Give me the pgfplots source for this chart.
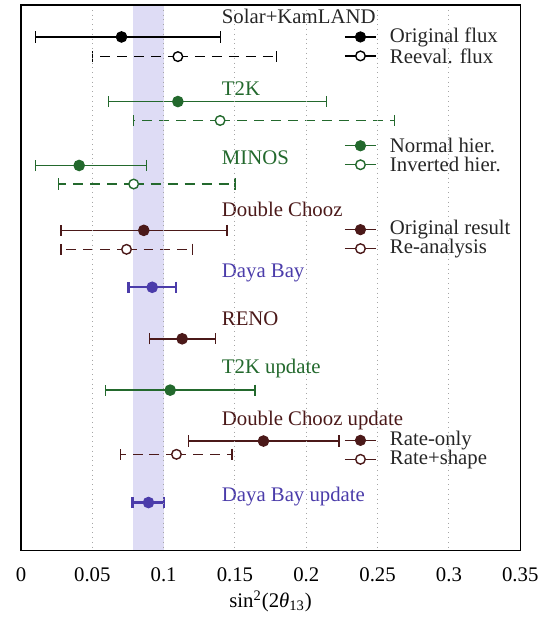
\documentclass[border=0pt]{standalone}
\usepackage{fontspec}
\setmainfont{Liberation Serif}
\usepackage{pgfplots}
\pgfplotsset{compat=1.18}
\usetikzlibrary{calc}

\definecolor{cgreen}{RGB}{35,105,45}
\definecolor{cbrown}{RGB}{75,25,25}
\definecolor{cblue}{RGB}{75,60,170}
\definecolor{cband}{RGB}{222,220,245}

\pgfplotsset{
  eb/.style={#1, mark=*, mark size=2.6pt, line width=0.7pt,
    mark options={solid, fill=#1, line width=0.6pt},
    error bars/.cd, x dir=both, x explicit,
    error bar style={line width=0.7pt, #1},
    error mark options={rotate=90, solid, line width=0.7pt, mark size=2.8pt, #1}},
  ebt/.style={#1, mark=*, mark size=2.6pt, line width=1.2pt,
    mark options={solid, fill=#1, line width=0.6pt},
    error bars/.cd, x dir=both, x explicit,
    error bar style={line width=1.2pt, #1},
    error mark options={rotate=90, solid, line width=1.2pt, mark size=2.8pt, #1}},
  ebo/.style={#1, mark=*, mark size=2.4pt, line width=0.7pt,
    mark options={solid, fill=white},
    error bars/.cd, x dir=both, x explicit,
    error bar style={line width=0.7pt, #1, dash pattern=on 5pt off 3.5pt},
    error mark options={rotate=90, solid, line width=0.7pt, mark size=2.8pt, #1}},
  lgline/.style={#1, line width=0.7pt},
  lgdot/.style={#1, only marks, mark=*, mark size=2.6pt, mark options={fill=#1}},
  lgopen/.style={#1, only marks, mark=*, mark size=2.4pt, line width=0.7pt, mark options={fill=white}},
}

\begin{document}
\begin{tikzpicture}[font=\fontsize{10.4}{12.5}\selectfont]
\begin{axis}[
  name=ax,
  scale only axis,
  width=250pt, height=273pt,
  xmin=0, xmax=0.35, ymin=5, ymax=551,
  y dir=reverse,
  ytick=\empty,
  xtick={0,0.05,0.1,0.15,0.2,0.25,0.3,0.35},
  xticklabels={0,0.05,0.1,0.15,0.2,0.25,0.3,0.35},
  major tick length=0pt,
  xmajorgrids,
  grid style={gray!70, dotted, line width=0.5pt},
  axis line style={line width=0.6pt},
  xticklabel style={yshift=-5pt},
  xlabel={sin\textsuperscript{2}(2\textit{θ}\textsubscript{13})},
  xlabel style={yshift=2pt},
  axis on top,
  clip=false,
]
\addplot[fill=cband, draw=none] coordinates {(0.0786,5) (0.1,5) (0.1,551) (0.0786,551)} -- cycle;

% Solar+KamLAND
\addplot[eb=black] coordinates {(0.0705,37) += (0.0695,0) -= (0.0602,0)};
\addplot[ebo=black] coordinates {(0.110,56.7) += (0.069,0) -= (0.060,0)};
% T2K
\addplot[eb=cgreen] coordinates {(0.110,101.7) += (0.104,0) -= (0.0486,0)};
\addplot[ebo=cgreen] coordinates {(0.1396,120.7) += (0.1224,0) -= (0.0606,0)};
% MINOS
\addplot[eb=cgreen] coordinates {(0.0408,165.7) += (0.0472,0) -= (0.0305,0)};
\addplot[ebo=cgreen] coordinates {(0.079,184.3) += (0.071,0) -= (0.0526,0)};
% Double Chooz
\addplot[eb=cbrown] coordinates {(0.0861,230.7) += (0.0582,0) -= (0.0581,0)};
\addplot[ebo=cbrown] coordinates {(0.074,249.7) += (0.0462,0) -= (0.046,0)};
% Daya Bay
\addplot[ebt=cblue] coordinates {(0.092,287.7) += (0.0168,0) -= (0.0166,0)};
% RENO
\addplot[eb=cbrown] coordinates {(0.113,339.3) += (0.0233,0) -= (0.0227,0)};
% T2K update
\addplot[eb=cgreen] coordinates {(0.1046,390.7) += (0.0594,0) -= (0.0453,0)};
% Double Chooz update
\addplot[eb=cbrown] coordinates {(0.170,441.7) += (0.053,0) -= (0.0524,0)};
\addplot[ebo=cbrown] coordinates {(0.109,455) += (0.039,0) -= (0.0392,0)};
% Daya Bay update
\addplot[ebt=cblue] coordinates {(0.0894,503.3) += (0.011,0) -= (0.0112,0)};

% legend keys
\addplot[lgline=black] coordinates {(0.227,37) (0.249,37)};
\addplot[lgdot=black] coordinates {(0.238,37)};
\addplot[lgline=black] coordinates {(0.227,56) (0.249,56)};
\addplot[lgopen=black] coordinates {(0.238,56)};
\addplot[lgline=cgreen] coordinates {(0.227,146) (0.249,146)};
\addplot[lgdot=cgreen] coordinates {(0.238,146)};
\addplot[lgline=cgreen] coordinates {(0.227,165) (0.249,165)};
\addplot[lgopen=cgreen] coordinates {(0.238,165)};
\addplot[lgline=cbrown] coordinates {(0.227,230) (0.249,230)};
\addplot[lgdot=cbrown] coordinates {(0.238,230)};
\addplot[lgline=cbrown] coordinates {(0.227,249) (0.249,249)};
\addplot[lgopen=cbrown] coordinates {(0.238,249)};
\addplot[lgline=cbrown] coordinates {(0.227,441) (0.249,441)};
\addplot[lgdot=cbrown] coordinates {(0.238,441)};
\addplot[lgline=cbrown] coordinates {(0.227,460) (0.249,460)};
\addplot[lgopen=cbrown] coordinates {(0.238,460)};

\begin{scope}[every node/.style={anchor=west, inner xsep=0pt, black!85}]
\node at (axis cs:0.2584,37) {Original flux};
\node at (axis cs:0.2584,56) {Reeval. flux};
\node at (axis cs:0.2584,146) {Normal hier.};
\node at (axis cs:0.2584,165) {Inverted hier.};
\node at (axis cs:0.2584,230) {Original result};
\node at (axis cs:0.2584,249) {Re-analysis};
\node at (axis cs:0.2584,441) {Rate-only};
\node at (axis cs:0.2584,460) {Rate+shape};
\end{scope}

% experiment labels
\node[anchor=west, black!85, inner xsep=0pt] at (axis cs:0.1406,16) {Solar+KamLAND};
\node[anchor=west, cgreen, inner xsep=0pt] at (axis cs:0.1406,89) {T2K};
\node[anchor=west, cgreen, inner xsep=0pt] at (axis cs:0.1406,158) {MINOS};
\node[anchor=west, cbrown, inner xsep=0pt] at (axis cs:0.1406,210) {Double Chooz};
\node[anchor=west, cblue, inner xsep=0pt] at (axis cs:0.1406,273) {Daya Bay};
\node[anchor=west, cbrown, inner xsep=0pt] at (axis cs:0.1406,319) {RENO};
\node[anchor=west, cgreen, inner xsep=0pt] at (axis cs:0.1406,369) {T2K update};
\node[anchor=west, cbrown, inner xsep=0pt] at (axis cs:0.1406,421) {Double Chooz update};
\node[anchor=west, cblue, inner xsep=0pt] at (axis cs:0.1406,497) {Daya Bay update};
\end{axis}
\path ($(ax.south west)+(-10.5pt,-34pt)$) rectangle ($(ax.north east)+(12.5pt,2.5pt)$);
\end{tikzpicture}
\end{document}
